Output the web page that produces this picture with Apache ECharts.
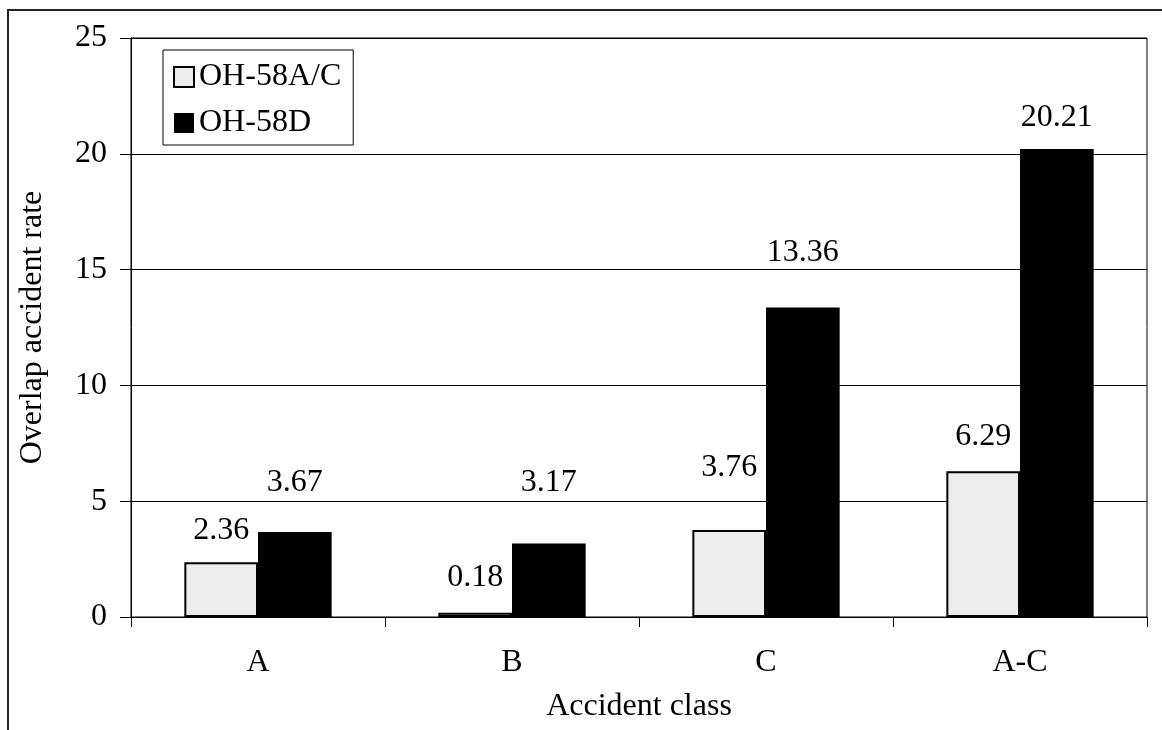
<!DOCTYPE html>
<html>
<head>
<meta charset="utf-8">
<title>Overlap accident rate</title>
<script src="https://cdn.jsdelivr.net/npm/echarts@6/dist/echarts.min.js"></script>
<style>
  html, body { margin: 0; padding: 0; background: #fff; }
  #chart { width: 1162px; height: 730px; }
</style>
</head>
<body>
<div id="chart"></div>
<script>
var classes = ['A', 'B', 'C', 'A-C'];
var rateAC = [2.36, 0.18, 3.76, 6.29];
var rateD = [3.67, 3.17, 13.36, 20.21];
var yTicks = [0, 5, 10, 15, 20, 25];

// how far each value label sits above its bar (labels were moved by hand in the original)
var liftAC = [16, 19, 46, 19];
var liftD = [33, 45, 39, 15];

var font = '"Liberation Serif", "Times New Roman", serif';
var fs = 32;
var chart = echarts.init(document.getElementById('chart'));

function withLabels(values, lifts) {
  return values.map(function (v, i) {
    return { value: v, label: { distance: lifts[i] } };
  });
}

var option = {
  backgroundColor: '#fff',
  animation: false,
  textStyle: { fontFamily: font, color: '#000' },
  graphic: [{
    type: 'rect',
    shape: { x: 8, y: 10, width: 1170, height: 740 },
    style: { fill: 'none', stroke: '#222', lineWidth: 2 },
    silent: true
  }],
  grid: {
    left: 131, top: 38, right: 15, bottom: 113,
    show: true, borderColor: '#000', borderWidth: 1
  },
  legend: {
    orient: 'vertical',
    left: 163, top: 50,
    padding: [11, 12, 6, 10],
    itemGap: 14,
    itemWidth: 20, itemHeight: 20,
    icon: 'rect',
    borderColor: '#000', borderWidth: 1,
    textStyle: { fontFamily: font, fontSize: fs, color: '#000', lineHeight: 32 },
    data: [
      { name: 'OH-58A/C', itemStyle: { color: '#ececec', borderColor: '#000', borderWidth: 2 } },
      { name: 'OH-58D', itemStyle: { color: '#000' } }
    ]
  },
  xAxis: {
    type: 'category',
    data: classes,
    name: 'Accident class',
    nameLocation: 'middle',
    nameGap: 74,
    nameTextStyle: { fontFamily: font, fontSize: fs, color: '#000' },
    axisLine: { lineStyle: { color: '#000', width: 1 } },
    axisTick: { show: true, inside: false, length: 10, lineStyle: { color: '#000' } },
    axisLabel: { fontFamily: font, fontSize: fs, color: '#000', margin: 30 }
  },
  yAxis: {
    type: 'value',
    min: yTicks[0],
    max: yTicks[yTicks.length - 1],
    interval: 5,
    name: 'Overlap accident rate',
    nameLocation: 'middle',
    nameGap: 82,
    nameTextStyle: { fontFamily: font, fontSize: fs, color: '#000' },
    axisLine: { show: true, lineStyle: { color: '#000', width: 1 } },
    axisTick: { show: true, inside: false, length: 11, lineStyle: { color: '#000' } },
    axisLabel: { fontFamily: font, fontSize: fs, color: '#000', margin: 24 },
    splitLine: { show: true, lineStyle: { color: '#000', width: 1 } }
  },
  series: [
    {
      name: 'OH-58A/C',
      type: 'bar',
      barGap: '0%',
      barCategoryGap: '42%',
      data: withLabels(rateAC, liftAC),
      itemStyle: { color: '#ececec', borderColor: '#000', borderWidth: 2 },
      label: { show: true, position: 'top', fontFamily: font, fontSize: fs, color: '#000' }
    },
    {
      name: 'OH-58D',
      type: 'bar',
      data: withLabels(rateD, liftD),
      itemStyle: { color: '#000' },
      label: { show: true, position: 'top', fontFamily: font, fontSize: fs, color: '#000' }
    }
  ]
};

chart.setOption(option);
</script>
</body>
</html>
